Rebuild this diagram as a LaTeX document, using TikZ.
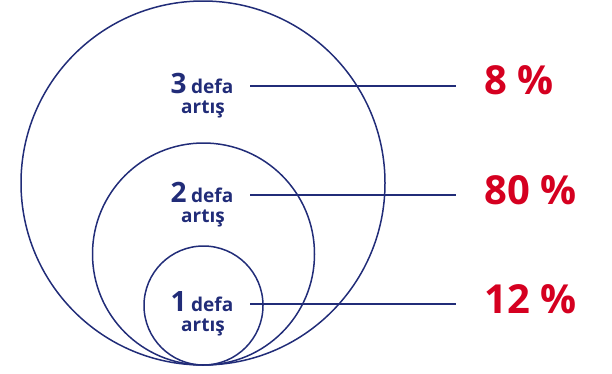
\documentclass[tikz,border=0pt]{standalone}
\usepackage{fontspec}
\setmainfont{Open Sans}
\definecolor{navy}{RGB}{33,44,120}
\definecolor{pred}{RGB}{213,0,32}
\begin{document}
\begin{tikzpicture}[x=1pt,y=-1pt,
  ring/.style={draw=navy,line width=1.5pt},
  lead/.style={draw=navy,line width=1.1pt},
  lab/.style={text=navy,font=\bfseries,align=center,inner sep=0pt,anchor=base},
  pct/.style={text=pred,font=\bfseries\fontsize{40}{40}\selectfont,inner sep=0pt,anchor=base west}]
\useasboundingbox (0,0) rectangle (612,373);
\draw[ring] (203,183) circle[radius=182];
\draw[ring] (203.5,254) circle[radius=111];
\draw[ring] (203.5,305.5) circle[radius=59.5];
\newcommand{\lbl}[1]{{\fontsize{28}{28}\selectfont #1}\hspace{4.5pt}{\fontsize{19}{19}\selectfont defa}}
\node[lab] (t3) at (202,93) {\lbl{3}};
\node[lab] (u3) at (203,113) {\fontsize{19}{19}\selectfont artış};
\node[lab] (t2) at (202,202) {\lbl{2}};
\node[lab] (u2) at (203,222) {\fontsize{19}{19}\selectfont artış};
\node[lab] (t1) at (202,311) {\lbl{1}};
\node[lab] (u1) at (203,331) {\fontsize{19}{19}\selectfont artış};
\node[pct] (p3) at (484,94) {8 \%};
\node[pct] (p2) at (484,204) {80 \%};
\node[pct] (p1) at (484,313) {12 \%};
\coordinate (a3) at (250,86); \coordinate (b3) at (456,86);
\coordinate (a2) at (250,195); \coordinate (b2) at (456,195);
\coordinate (a1) at (250,304); \coordinate (b1) at (456,304);
\draw[lead] (a3) -- (b3);
\draw[lead] (a2) -- (b2);
\draw[lead] (a1) -- (b1);
\end{tikzpicture}
\end{document}
